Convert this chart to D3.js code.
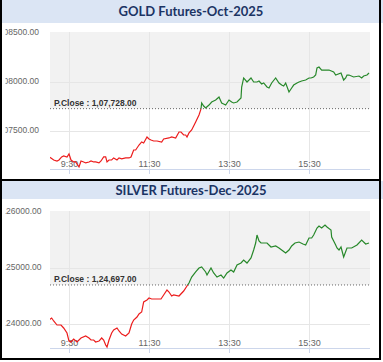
<!DOCTYPE html>
<html>
<head>
<meta charset="utf-8">
<script src="https://cdn.jsdelivr.net/npm/d3@7"></script>
<style>
  html, body { margin: 0; padding: 0; background: #fff; }
  svg { display: block; }
</style>
</head>
<body>
<script>
// ---------- data ----------
const goldTitle = "GOLD Futures-Oct-2025";
const goldPClose = 107728;
const goldTicks = [107500, 108000, 108500];
const goldTimes = ["9:00","9:03","9:07","9:12","9:15","9:19","9:22","9:27","9:30","9:33","9:37","9:40","9:45","9:48","9:52","9:55","10:00","10:03","10:07","10:10","10:15","10:18","10:22","10:25","10:27","10:30","10:34","10:37","10:42","10:45","10:49","10:55","11:00","11:03","11:07","11:10","11:15","11:19","11:22","11:27","11:30","11:33","11:37","11:42","11:49","11:52","12:00","12:04","12:10","12:15","12:18","12:22","12:25","12:27","12:30","12:34","12:37","12:40","12:45","12:48","12:49","12:52","12:55","13:00","13:04","13:07","13:10","13:15","13:19","13:22","13:25","13:30","13:34","13:37","13:42","13:48","13:49","13:52","13:57","14:00","14:03","14:07","14:12","14:15","14:19","14:22","14:27","14:30","14:34","14:40","14:45","14:49","14:52","14:55","15:00","15:04","15:07","15:12","15:15","15:19","15:25","15:30","15:33","15:37","15:40","15:42","15:45","15:49","15:52","16:00","16:07","16:10","16:18","16:22","16:25","16:27","16:30","16:37","16:45","16:49","16:52","16:57","17:00"];
const goldValues = [107235,107225,107204,107194,107204,107235,107245,107235,107266,107204,107184,107184,107133,107194,107184,107174,107184,107194,107184,107184,107174,107194,107235,107235,107184,107204,107204,107225,107204,107225,107215,107225,107225,107235,107306,107306,107357,107388,107378,107439,107419,107408,107398,107398,107388,107419,107429,107439,107429,107490,107490,107459,107459,107439,107480,107510,107551,107592,107663,107725,107786,107755,107735,107765,107796,107806,107816,107847,107786,107776,107765,107816,107796,107786,107796,107837,107949,108041,108000,108020,108041,108000,108000,108010,107980,107990,107949,107939,107990,108041,107990,107969,107959,107990,107898,107939,107969,107990,108000,108010,108020,108041,108041,108051,108071,108143,108153,108122,108122,108122,108102,108071,108092,108020,108041,108071,108071,108051,108061,108041,108061,108071,108092];

const silverTitle = "SILVER Futures-Dec-2025";
const silverPClose = 124697;
const silverTicks = [124000, 125000, 126000];
const silverTimes = ["9:00","9:04","9:07","9:12","9:18","9:22","9:27","9:30","9:33","9:37","9:42","9:48","9:55","10:00","10:03","10:07","10:10","10:15","10:19","10:22","10:25","10:27","10:30","10:34","10:37","10:42","10:45","10:49","10:55","11:00","11:04","11:07","11:12","11:15","11:19","11:22","11:27","11:30","11:34","11:42","11:48","11:52","11:57","12:00","12:04","12:07","12:15","12:22","12:27","12:30","12:34","12:40","12:45","12:49","12:55","12:57","13:03","13:07","13:12","13:18","13:22","13:27","13:33","13:37","13:42","13:48","13:52","13:57","14:03","14:07","14:10","14:12","14:15","14:18","14:22","14:27","14:33","14:40","14:45","14:51","14:55","15:00","15:04","15:09","15:15","15:21","15:25","15:30","15:34","15:37","15:42","15:45","15:49","15:54","15:57","16:03","16:04","16:07","16:10","16:12","16:15","16:18","16:22","16:27","16:34","16:42","16:49","16:55","17:00"];
const silverValues = [124071,124107,124054,123982,123982,123929,123839,123696,123679,123732,123679,123750,123786,123750,123714,123714,123679,123696,123750,123714,123625,123589,123714,123839,123893,123929,123875,123821,123786,123839,124000,124071,124125,124179,124214,124393,124429,124464,124446,124446,124446,124518,124607,124571,124500,124518,124500,124589,124679,124732,124839,124929,125000,125018,124929,124875,125000,124911,124839,124875,124821,124911,124964,124929,125054,125089,125143,125089,125179,125321,125446,125589,125482,125446,125446,125446,125375,125393,125357,125304,125268,125321,125393,125446,125464,125429,125411,125536,125536,125589,125714,125750,125714,125768,125732,125679,125554,125482,125411,125357,125321,125375,125196,125357,125357,125411,125500,125429,125446];

const timeTicks = ["9:30", "11:30", "13:30", "15:30"];
const timeDomain = ["9:00", "17:00"];

// ---------- layout ----------
const W = 383, H = 362;
const parseT = d3.timeParse("%H:%M");
const fmtTick = d3.format(".2f");
function indianFormat(v) {
  const s = Math.round(v).toString();
  let last3 = s.slice(-3), rest = s.slice(0, -3);
  if (rest.length) rest = rest.replace(/\B(?=(\d{2})+(?!\d))/g, ",") + ",";
  return rest + last3 + ".00";
}

const svg = d3.select("body").append("svg").attr("width", W).attr("height", H);
svg.append("rect").attr("width", W).attr("height", H).attr("fill", "#fff");

const defs = svg.append("defs");
defs.append("clipPath").attr("id", "labclip")
  .append("rect").attr("x", 5.5).attr("y", 0).attr("width", 44).attr("height", H);

const panels = [
  { title: goldTitle, times: goldTimes, values: goldValues, ticks: goldTicks, pclose: goldPClose,
    bandTop: 0, bandBottom: 23, plotTop: 32, plotBottom: 169, yRange: [131, 33], labelX: 39 },
  { title: silverTitle, times: silverTimes, values: silverValues, ticks: silverTicks, pclose: silverPClose,
    bandTop: 181, bandBottom: 199, plotTop: 211, plotBottom: 348, yRange: [324, 212], labelX: 41.5 }
];

const plotLeft = 50, plotRight = 370;
const x = d3.scaleTime().domain(timeDomain.map(parseT)).range([49, 369]);

panels.forEach((p, i) => {
  const g = svg.append("g");
  // title band
  g.append("rect").attr("x", 0).attr("y", p.bandTop).attr("width", W).attr("height", p.bandBottom - p.bandTop)
    .attr("fill", "#dbe5f4");
  g.append("text").attr("x", 191).attr("y", (p.bandTop + p.bandBottom) / 2)
    .attr("dy", "0.36em").attr("text-anchor", "middle")
    .attr("font-family", "Lato, 'Open Sans', sans-serif").attr("font-weight", "bold")
    .attr("font-size", 13).attr("fill", "#1b3464").text(p.title);

  const y = d3.scaleLinear().domain([p.ticks[0], p.ticks[p.ticks.length - 1]]).range(p.yRange);
  const yP = y(p.pclose);
  const pw = plotRight - plotLeft;

  // backgrounds
  g.append("rect").attr("x", plotLeft).attr("y", p.plotTop).attr("width", pw).attr("height", p.plotBottom - p.plotTop).attr("fill", "#fff");
  g.append("rect").attr("x", plotLeft).attr("y", p.plotTop).attr("width", pw).attr("height", yP - p.plotTop).attr("fill", "#f2f2f2");

  // gridlines
  p.ticks.slice(0, -1).forEach(t => {
    g.append("line").attr("x1", plotLeft).attr("x2", plotRight).attr("y1", Math.round(y(t)) + 0.5).attr("y2", Math.round(y(t)) + 0.5)
      .attr("stroke", "#e6e6e6").attr("stroke-width", 1);
  });
  timeTicks.forEach(t => {
    const xx = Math.round(x(parseT(t))) + 0.5;
    g.append("line").attr("x1", xx).attr("x2", xx).attr("y1", p.plotTop).attr("y2", p.plotBottom)
      .attr("stroke", "#e6e6e6").attr("stroke-width", 1);
    g.append("line").attr("x1", xx).attr("x2", xx).attr("y1", p.plotBottom).attr("y2", p.plotBottom + 5)
      .attr("stroke", "#ccd6eb").attr("stroke-width", 1);
    g.append("text").attr("x", xx).attr("y", p.plotBottom - 2).attr("text-anchor", "middle")
      .attr("font-family", "'Liberation Sans', Arial, sans-serif").attr("font-size", 9).attr("fill", "#666").text(t);
  });
  // axis line
  g.append("line").attr("x1", plotLeft).attr("x2", plotRight).attr("y1", p.plotBottom + 0.5).attr("y2", p.plotBottom + 0.5)
    .attr("stroke", "#ccd6eb").attr("stroke-width", 1);

  // y labels
  const lab = g.append("g").attr("clip-path", "url(#labclip)");
  p.ticks.forEach(t => {
    lab.append("text").attr("x", p.labelX).attr("y", y(t) + 2).attr("text-anchor", "end")
      .attr("font-family", "'Liberation Sans', Arial, sans-serif").attr("font-size", 8.5).attr("fill", "#666")
      .text(fmtTick(t));
  });

  // price line split by previous close
  const data = p.times.map((t, k) => ({ t: parseT(t), v: p.values[k] }));
  const line = d3.line().x(d => x(d.t)).y(d => y(d.v));
  const cidA = "above" + i, cidB = "below" + i;
  defs.append("clipPath").attr("id", cidA).append("rect")
    .attr("x", plotLeft).attr("y", p.plotTop - 5).attr("width", pw).attr("height", yP - p.plotTop + 5);
  defs.append("clipPath").attr("id", cidB).append("rect")
    .attr("x", plotLeft).attr("y", yP).attr("width", pw).attr("height", p.plotBottom - yP + 5);
  g.append("path").datum(data).attr("d", line).attr("fill", "none").attr("stroke", "#ec1c1c")
    .attr("stroke-width", 1.2).attr("clip-path", `url(#${cidB})`);
  g.append("path").datum(data).attr("d", line).attr("fill", "none").attr("stroke", "#27882a")
    .attr("stroke-width", 1.2).attr("clip-path", `url(#${cidA})`);

  // previous close line + label
  g.append("line").attr("x1", plotLeft).attr("x2", plotRight).attr("y1", yP).attr("y2", yP)
    .attr("stroke", "#666").attr("stroke-width", 1).attr("stroke-dasharray", "1,2");
  g.append("text").attr("x", 54).attr("y", yP - 3)
    .attr("font-family", "'Liberation Sans', Arial, sans-serif").attr("font-weight", "bold")
    .attr("font-size", 8.5).attr("fill", "#333").text("P.Close : " + indianFormat(p.pclose));
});

// frame
const frame = svg.append("g").attr("stroke", "#000").attr("stroke-width", 2);
frame.append("line").attr("x1", 1).attr("x2", 1).attr("y1", 0).attr("y2", 360);
frame.append("line").attr("x1", 380).attr("x2", 380).attr("y1", 0).attr("y2", 360);
frame.append("line").attr("x1", 0).attr("x2", 381).attr("y1", 359).attr("y2", 359);
frame.append("line").attr("x1", 0).attr("x2", 381).attr("y1", 180).attr("y2", 180);
</script>
</body>
</html>
